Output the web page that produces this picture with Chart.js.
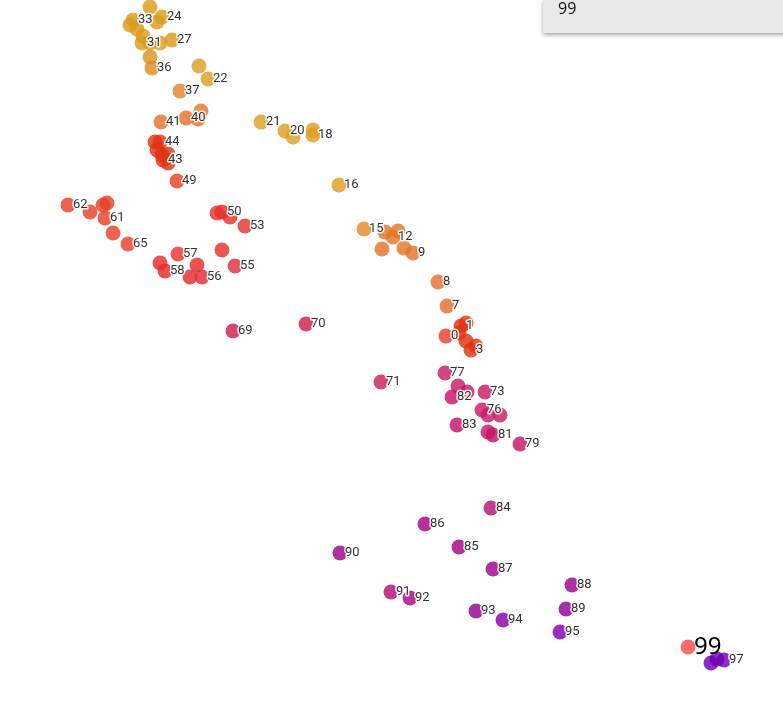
<!DOCTYPE html>
<html>
<head>
<meta charset="utf-8">
<script src="https://cdn.jsdelivr.net/npm/chart.js@4"></script>
<style>
html,body{margin:0;padding:0;background:#fff;overflow:hidden;}
#wrap{position:relative;width:783px;height:704px;}
#info{position:absolute;left:543px;top:0;width:260px;height:33px;background:#e8e8e8;
 box-shadow:0 2px 4px rgba(0,0,0,0.35);font-family:"Open Sans",sans-serif;font-size:16px;color:#111;
 line-height:16px;padding-left:15px;box-sizing:border-box;}
</style>
</head>
<body>
<div id="wrap">
<canvas id="c" width="783" height="704"></canvas>
<div id="info">99</div>
</div>
<script>
// embedding coordinates for points 0..99
const xs = [446,461,466,471,476,466,459,447,438,413,
            404,382,393,398,385,364,339,313,313,293,
            285,261,208,199,162,150,157,172,160,150,
            143,142,130,133,137,150,152,180,201,198,
            186,161,155,163,160,157,168,168,162,177,
            222,217,230,245,222,235,202,178,165,113,
            90,105,68,103,107,128,160,190,197,233,
            306,381,467,485,488,500,482,445,458,520,
            488,493,452,457,491,459,425,493,572,566,
            340,391,410,476,503,560,711,724,717,688];
const ys = [336,326,323,350,346,341,333,306,282,253,
            248,249,237,231,232,229,185,130,135,137,
            131,122,79,66,17,7,22,40,43,43,
            36,43,25,20,29,57,68,91,111,119,
            118,122,142,160,142,150,154,163,155,181,
            212,213,217,226,250,266,277,254,271,233,
            212,218,205,205,203,244,263,277,265,331,
            324,382,392,392,415,415,410,373,386,444,
            432,435,397,425,508,547,524,569,585,609,
            553,592,598,611,620,632,663,660,659,647];
// colour groups: [from, to, colour]
const colourGroups = [
  [0,0,'#ec6356'],[1,6,'#e8583f'],[7,7,'#eb8852'],[8,8,'#ea8b56'],[9,14,'#e88e4f'],
  [15,15,'#e8a04d'],[16,16,'#e6ae4d'],[17,23,'#e3b04a'],[24,34,'#e0ae45'],[35,35,'#e2a848'],
  [36,36,'#e4a04a'],[37,37,'#e69a52'],[38,38,'#ea9052'],[39,41,'#ea8a55'],[42,48,'#e6583f'],
  [49,49,'#ea6452'],[50,54,'#ec5552'],[55,55,'#e35563'],[56,56,'#e8525a'],[57,57,'#ec5a55'],
  [58,58,'#ea5050'],[59,65,'#ea6450'],[66,68,'#ea5252'],[69,70,'#d8486c'],[71,71,'#d24876'],
  [72,78,'#d24580'],[79,83,'#cf3f82'],[84,84,'#c43c8c'],[85,85,'#b5309c'],[86,86,'#b8309a'],
  [87,88,'#b1309f'],[89,89,'#aa2ba8'],[90,90,'#b030a0'],[91,91,'#c03a8e'],[92,92,'#b8349a'],
  [93,93,'#a82aaa'],[94,94,'#a020b5'],[95,95,'#9612be'],[96,98,'#8a10c4'],[99,99,'#ff6b6b']
];
const labelled = [0,1,3,7,8,9,12,15,16,18,20,21,22,24,27,31,33,36,37,40,41,43,44,49,
  50,53,55,56,57,58,61,62,65,69,70,71,73,76,77,79,81,82,83,84,85,86,87,88,89,90,
  91,92,93,94,95,97];
const highlighted = 99;

const ALPHA = 0.82;
function toRgba(hex){
  const v=[1,3,5].map(i=>parseInt(hex.substr(i,2),16));
  const b=v.map(o=>Math.max(0,Math.min(255,Math.round((o-(1-ALPHA)*255)/ALPHA))));
  return `rgba(${b[0]},${b[1]},${b[2]},${ALPHA})`;
}
const colours = [];
colourGroups.forEach(([a,b,c])=>{for(let i=a;i<=b;i++) colours[i]=toRgba(c);});
const points = xs.map((x,i)=>({x:x,y:ys[i],id:i}));

const labelPlugin = {
  id:'labels',
  afterDatasetsDraw(chart){
    const ctx=chart.ctx, meta=chart.getDatasetMeta(0);
    ctx.save();
    ctx.textBaseline='middle';
    ctx.textAlign='left';
    ctx.font='13px Roboto';
    ctx.lineJoin='round';
    labelled.forEach(i=>{
      const el=meta.data[i];
      ctx.strokeStyle='rgba(255,255,255,0.9)';
      ctx.lineWidth=3;
      ctx.strokeText(String(i),el.x+5,el.y);
      ctx.fillStyle='#333';
      ctx.fillText(String(i),el.x+5,el.y);
    });
    const h=meta.data[highlighted];
    ctx.font='24px "Noto Sans"';
    ctx.fillStyle='#000';
    ctx.fillText(String(highlighted),h.x+6,h.y);
    ctx.restore();
  }
};

new Chart(document.getElementById('c'),{
  type:'scatter',
  data:{datasets:[{data:points,backgroundColor:colours,borderWidth:0,pointRadius:7.5,pointHoverRadius:7.5,clip:false}]},
  options:{
    responsive:false,animation:false,events:[],
    layout:{padding:0,autoPadding:false},
    plugins:{legend:{display:false},tooltip:{enabled:false}},
    scales:{
      x:{type:'linear',min:0,max:783,display:false},
      y:{type:'linear',min:0,max:704,reverse:true,display:false}
    }
  },
  plugins:[labelPlugin]
});
</script>
</body>
</html>
